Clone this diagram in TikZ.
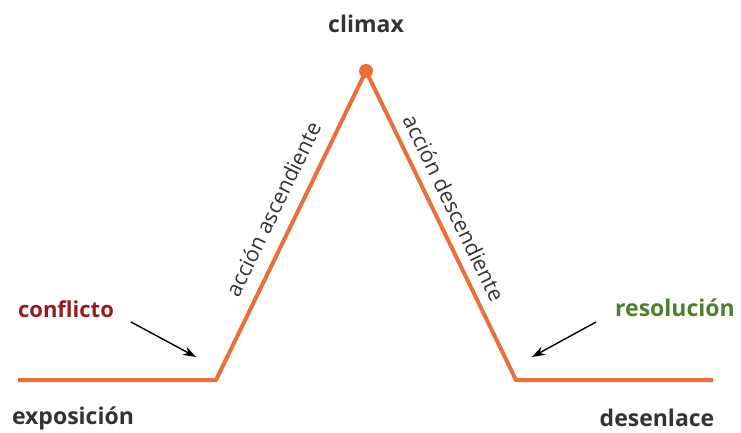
\documentclass[tikz,border=0pt]{standalone}
\usepackage{fontspec}
\setmainfont{Open Sans}
\usepackage{tikz}
\usetikzlibrary{arrows.meta}
\definecolor{plotline}{RGB}{232,112,58}
\definecolor{labelgray}{RGB}{51,51,51}
\definecolor{conflictred}{RGB}{145,30,28}
\definecolor{resolvegreen}{RGB}{78,126,46}

\begin{document}
\begin{tikzpicture}[x=1pt,y=1pt,
  stage/.style={font=\fontsize{23}{27}\selectfont\bfseries,text=labelgray},
  slope/.style={font=\fontsize{21.5}{25}\selectfont,text=labelgray},
  pointer/.style={draw=black,line width=1.4pt,-{Stealth[length=13pt,width=9pt]}}]
\useasboundingbox (0,0) rectangle (741,432);
% the plot line:
\coordinate (start) at (18,52);
\coordinate (rise) at (216,52);
\coordinate (peak) at (366,361);
\coordinate (fall) at (516,52);
\coordinate (end) at (713,52);
\path[draw=plotline,line width=4pt] (start) -- (rise) -- (peak) -- (fall) -- (end);
\path[fill=plotline] (peak) circle (7);
% labels of the stages:
\node[stage] (climax) at (366,408) {climax};
\node[stage] (exposicion) at (73,14) {exposición};
\node[stage] (desenlace) at (657,14) {desenlace};
\node[stage,font=\fontsize{22}{26}\selectfont\bfseries,text=conflictred] (conflicto) at (66,123) {conflicto};
\node[stage,text=resolvegreen] (resolucion) at (675,124) {resolución};
% labels along the slopes:
\node[slope,rotate=64.1] (ascendiente) at (273,223) {acción ascendiente};
\node[slope,rotate=-64.1] (descendiente) at (454,224) {acción descendiente};
% pointers:
\coordinate (conflicto tail) at (131,110);
\coordinate (conflicto tip) at (196,75);
\coordinate (resolucion tail) at (596,110);
\coordinate (resolucion tip) at (532,75);
\path[pointer] (conflicto tail) -- (conflicto tip);
\path[pointer] (resolucion tail) -- (resolucion tip);
\end{tikzpicture}
\end{document}
